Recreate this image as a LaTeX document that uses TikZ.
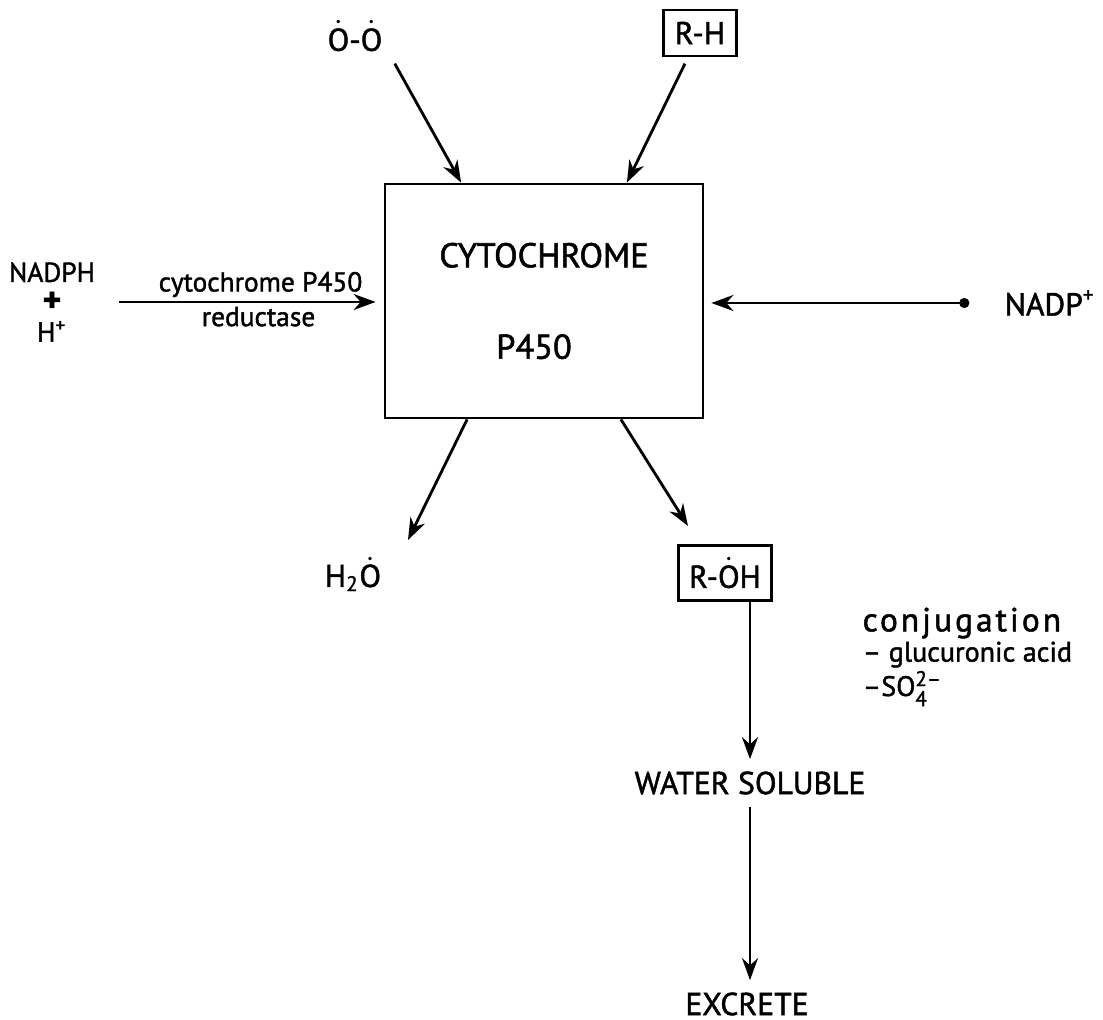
\documentclass[tikz,border=0pt]{standalone}
\usepackage{amsmath}
\usepackage{fontspec}
\setmainfont{PT Sans}[FakeBold=1.5]
\usetikzlibrary{arrows.meta}
\newcommand{\Odt}{\ensuremath{\dot{\text{O}}}}
\tikzset{
  rxnarr/.style = {-{Stealth[length=2.2mm,width=1.6mm]},thick},
  cmpbox/.style = {draw,thick,inner sep=3pt},
  biglbl/.style = {font=\fontsize{9}{11}\selectfont},
  smlbl/.style  = {font=\fontsize{7.8}{8.5}\selectfont,align=center}
}

\begin{document}
\begin{tikzpicture}
  \useasboundingbox (0,0) rectangle (11.03,-10.20);
  \node[draw,thick,minimum width=3.18cm,minimum height=2.34cm,align=center,
        font=\fontsize{9.8}{12}\selectfont] (cyt) at (5.44,-3.01) {CYTOCHROME\\[14pt]P450\hspace*{0.2cm}};
  \node[biglbl] (oo)    at (3.55,-0.36) {\Odt-\Odt};
  \node[biglbl,cmpbox,minimum width=0.73cm,minimum height=0.46cm] (rh) at (7.00,-0.33) {R-H};
  \node[smlbl] (nadph)  at (0.52,-3.02) {NADPH\\{\fontsize{10}{8.5}\selectfont\textbf{+}}\\H$^{\text{+}}$};
  \node[biglbl] (nadp)  at (10.50,-3.03) {NADP$^{\text{+}}$};
  \node[biglbl] (h2o)   at (3.53,-5.74) {H$_{\text{2}}$\Odt};
  \node[biglbl,cmpbox,minimum width=0.81cm,minimum height=0.55cm] (roh) at (7.25,-5.73) {R-\Odt H};
  \node[biglbl] (ws)    at (7.50,-7.83) {WATER SOLUBLE};
  \node[biglbl] (exc)   at (7.47,-10.04) {EXCRETE};
  \node[anchor=north west,align=left,inner sep=0pt,font=\fontsize{8}{8.6}\selectfont] (conj) at (8.62,-6.07)
    {{\fontsize{9.5}{9.5}\selectfont\addfontfeature{LetterSpace=9}conjugation}\\
     -- glucuronic acid\\
     --SO$_{\text{4}}^{\text{2--}}$};

  \draw[rxnarr] (oo.south east) -- (cyt.125);
  \draw[rxnarr,shorten <=0.07cm] ([xshift=-0.12cm]rh.south) -- (cyt.55);
  \draw[rxnarr,shorten <=0.11cm,shorten >=0.08cm] (nadph.east) -- (nadph.east -| cyt.west)
    node[midway,above,smlbl,inner sep=1pt,xshift=0.15cm] {cytochrome P450}
    node[midway,below,smlbl,inner sep=1pt,xshift=0.13cm] {reductase};
  \draw[{Circle[length=1mm]}-{Stealth[length=2.2mm,width=1.6mm]},thick,shorten <=0.23cm,shorten >=0.07cm]
    (nadp.west) -- (nadp.west -| cyt.east);
  \draw[rxnarr] (cyt.237) -- ([shift={(0.55,0.34)}]h2o.center);
  \draw[rxnarr] (cyt.-57) -- ([shift={(-0.37,0.47)}]roh.center);
  \draw[rxnarr] (roh.south -| ws.north) -- (ws.north);
  \draw[rxnarr] (ws.south) -- (ws.south |- exc.north);
\end{tikzpicture}
\end{document}
